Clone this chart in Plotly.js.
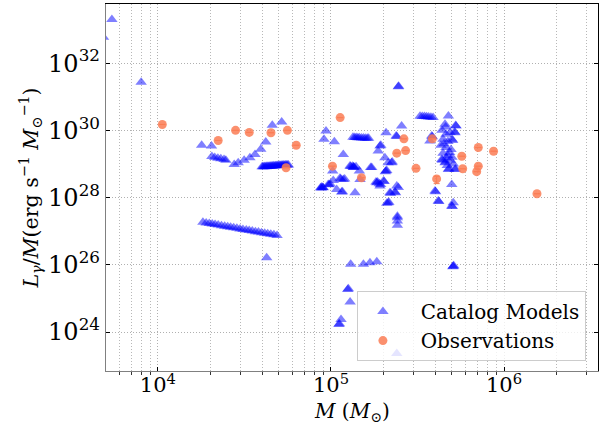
<!DOCTYPE html>
<html>
<head>
<meta charset="utf-8">
<script src="https://cdn.plot.ly/plotly-3.0.1.min.js"></script>
<style>html,body{margin:0;padding:0;background:#fff;}#chart{width:601px;height:425px;}</style>
</head>
<body>
<div id="chart"></div>
<script>
// ---- Catalog model values (M in solar masses, L/M in erg s^-1 Msun^-1) ----
var edgeM = [4.85e3, 5.42e3, 8.0e3];
var edgeL = [5.9e32, 2.0e33, 2.7e31];

var leftM = [1.79e4, 2.04e4, 2.05e4, 2.13e4, 2.22e4, 2.31e4, 2.41e4, 2.47e4,
             2.76e4, 2.91e4, 3.15e4, 3.40e4, 3.64e4, 3.93e4, 4.20e4, 4.58e4, 5.19e4];
var leftL = [3.6e29, 3.4e29, 1.68e29, 1.57e29, 1.47e29, 1.42e29, 1.37e29, 1.28e29,
             9.7e28, 1.09e29, 1.28e29, 1.54e29, 1.93e29, 2.72e29, 4.5e29, 1.41e30, 1.77e30];

var barM = [4.00e4, 4.05e4, 4.11e4, 4.16e4, 4.22e4, 4.27e4, 4.33e4, 4.39e4, 4.45e4, 4.51e4,
            4.57e4, 4.63e4, 4.69e4, 4.76e4, 4.82e4, 4.89e4, 4.95e4, 5.02e4, 5.09e4, 5.16e4,
            5.23e4, 5.30e4, 5.37e4, 5.45e4, 5.52e4, 5.60e4, 5.68e4];
var barL = [8.2e28, 8.3e28, 8.2e28, 8.4e28, 8.3e28, 8.5e28, 8.4e28, 8.6e28, 8.5e28, 8.7e28,
            8.6e28, 8.8e28, 8.7e28, 8.9e28, 8.8e28, 9.0e28, 8.9e28, 9.1e28, 9.0e28, 9.2e28,
            9.1e28, 9.3e28, 9.2e28, 9.4e28, 9.3e28, 9.4e28, 9.4e28];

var diagM = [1.82e4, 1.90e4, 1.98e4, 2.06e4, 2.14e4, 2.23e4, 2.33e4, 2.43e4, 2.53e4, 2.63e4,
             2.74e4, 2.86e4, 2.98e4, 3.10e4, 3.24e4, 3.37e4, 3.51e4, 3.66e4, 3.81e4, 3.97e4,
             4.14e4, 4.31e4, 4.49e4, 4.68e4, 4.88e4, 4.25e4];
var diagL = [1.83e27, 1.76e27, 1.70e27, 1.64e27, 1.57e27, 1.52e27, 1.46e27, 1.41e27, 1.36e27, 1.31e27,
             1.26e27, 1.22e27, 1.17e27, 1.13e27, 1.09e27, 1.05e27, 1.01e27, 9.7e26, 9.4e26, 9.0e26,
             8.7e26, 8.4e26, 8.1e26, 7.8e26, 7.5e26, 1.63e26];

var midM = [9.36e4, 9.11e4, 1.046e5, 1.178e5, 1.023e5, 1.288e5, 1.30e5, 1.346e5, 1.36e5, 1.396e5,
            1.459e5, 8.71e4, 8.80e4, 8.99e4, 9.64e4, 9.75e4, 9.90e4, 1.031e5, 1.127e5, 1.14e5,
            1.178e5, 1.20e5, 1.079e5, 1.153e5, 1.165e5, 1.377e5, 1.472e5, 1.695e5, 1.820e5, 1.937e5,
            1.90e5, 1.34e5, 1.37e5, 1.40e5, 1.43e5, 1.46e5, 1.50e5, 1.54e5, 1.58e5, 1.62e5,
            1.65e5, 2.08e5, 2.38e5, 2.40e5, 2.56e5, 2.45e5, 2.46e5, 1.92e5, 1.94e5, 1.875e5,
            2.05e5, 2.14e5, 2.24e5, 2.26e5, 2.08e5, 2.10e5, 2.06e5, 1.72e5, 1.84e5, 1.86e5,
            1.92e5, 2.01e5, 2.03e5, 2.19e5, 2.21e5, 2.34e5, 2.36e5, 2.40e5, 2.45e5, 2.14e5,
            2.10e5, 2.16e5, 2.42e5, 2.42e5, 2.42e5, 2.42e5, 8.85e4, 9.0e4, 1.335e5, 1.35e5];
var midL = [9.5e29, 5.4e29, 4.55e29, 1.93e29, 6.15e28, 8.7e28, 8.4e28, 7.8e28, 8.0e28, 8.2e28,
            6.15e28, 1.97e28, 1.93e28, 2.01e28, 2.47e28, 2.40e28, 2.55e28, 3.25e28, 3.73e28, 3.60e28,
            3.48e28, 3.55e28, 1.75e28, 1.46e28, 1.50e28, 1.40e28, 3.48e28, 7.8e28, 2.89e28, 2.47e28,
            2.60e28, 6.2e29, 6.1e29, 6.1e29, 6.0e29, 6.0e29, 5.9e29, 5.9e29, 5.8e29, 5.8e29,
            5.8e29, 8.5e29, 6.8e29, 6.6e29, 1.34e30, 2.0e31, 2.05e31, 3.4e29, 3.6e29, 2.42e29,
            1.54e29, 1.09e29, 1.09e29, 1.15e29, 6.15e28, 6.4e28, 5.9e28, 7.8e28, 2.77e28, 2.9e28,
            2.20e28, 3.1e28, 3.0e28, 1.40e28, 1.35e28, 1.46e28, 1.40e28, 2.20e28, 2.0e28, 7.05e27,
            6.8e27, 7.3e27, 2.8e27, 2.5e27, 2.0e27, 1.49e27, 2.05e28, 1.95e28, 8.5e28, 8.1e28];

var lowM = [1.30e5, 1.54e5, 1.68e5, 1.84e5, 1.25e5, 1.26e5, 1.29e5, 1.143e5, 1.112e5, 1.118e5, 2.40e5];
var lowL = [1.03e26, 1.03e26, 1.16e26, 1.24e26, 1.85e25, 1.95e25, 7.8e24, 2.37e24, 1.68e24, 1.75e24, 2.3e23];

var rightM = [3.27e5, 3.37e5, 3.47e5, 3.57e5, 3.67e5, 3.78e5, 3.89e5, 4.77e5, 4.56e5, 4.60e5,
              5.28e5, 5.25e5, 5.21e5, 5.18e5, 3.82e5, 3.85e5, 3.73e5, 4.38e5, 4.62e5, 4.88e5,
              4.44e5, 4.74e5, 5.0e5, 5.05e5, 4.32e5, 4.62e5, 4.94e5, 4.44e5, 4.74e5, 5.0e5,
              4.37e5, 4.40e5, 4.56e5, 4.60e5, 4.77e5, 4.80e5, 5.21e5, 5.25e5, 4.99e5, 3.99e5,
              4.02e5, 4.17e5, 4.20e5, 4.99e5, 5.02e5, 5.09e5, 5.09e5, 5.12e5, 5.06e5, 4.50e5,
              4.85e5, 4.65e5, 4.90e5, 5.10e5, 4.70e5];
var rightL = [2.65e30, 2.6e30, 2.6e30, 2.55e30, 2.5e30, 2.45e30, 2.4e30, 2.67e30, 1.51e30, 1.25e30,
              1.34e30, 1.40e30, 8.5e29, 9.0e29, 6.8e29, 6.5e29, 4.8e29, 1.0e30, 7.6e29, 8.7e29,
              5.4e29, 4.7e29, 5.4e29, 5.0e29, 3.6e29, 3.1e29, 2.7e29, 2.1e29, 1.8e29, 1.58e29,
              1.37e29, 1.30e29, 1.09e29, 1.15e29, 6.9e28, 7.2e28, 6.9e28, 7.1e28, 2.47e28, 1.56e28,
              1.50e28, 7.9e27, 7.6e27, 5.6e27, 5.4e27, 7.05e27, 9.1e25, 9.4e25, 8.8e25, 4.0e29,
              2.2e29, 1.5e29, 1.3e29, 1.0e29, 9.0e28];

// ---- Observations ----
var obsM = [1.06e4, 2.23e4, 2.81e4, 3.37e4, 4.5e4, 5.6e4, 6.3e4, 5.5e4, 1.13e5, 1.02e5,
            1.50e5, 2.40e5, 2.64e5, 2.70e5, 3.10e5, 3.85e5, 4.08e5, 5.7e5, 5.77e5, 7.1e5,
            7.1e5, 6.95e5, 8.7e5, 1.55e6];
var obsL = [1.5e30, 5.0e29, 1.0e30, 8.7e29, 8.5e29, 1.0e30, 3.6e29, 7.7e28, 2.4e30, 8.6e28,
            3.9e28, 2.1e29, 5.6e29, 2.5e29, 7.4e28, 5.6e29, 3.6e28, 1.7e29, 7.2e28, 3.1e29,
            8.6e28, 5.9e28, 2.4e29, 1.3e28];
var obsErrUp = [0,0,0,0,0,0,0,0,0,0, 0,0,0,0,0,0,0.7e28,0,0,0, 0,0,0,0];
var obsErrDn = [0,0,0,0,0,0,0,0,0,0, 0,0,0,0,0,0,1.0e28,0,0,0, 0,0,0,0];

// ---- Axis ticks ----
var xMajor = [1e4, 1e5, 1e6];
var xMajorText = ['10<sup>4</sup>', '10<sup>5</sup>', '10<sup>6</sup>'];
var xMinor = [5e3,6e3,7e3,8e3,9e3, 2e4,3e4,4e4,5e4,6e4,7e4,8e4,9e4, 2e5,3e5,4e5,5e5,6e5,7e5,8e5,9e5, 2e6,3e6];
var yMajor = [1e24, 1e26, 1e28, 1e30, 1e32];
var yMajorText = ['10<sup>24</sup>', '10<sup>26</sup>', '10<sup>28</sup>', '10<sup>30</sup>', '10<sup>32</sup>'];

var catM = [].concat(edgeM, leftM, barM, diagM, midM, lowM, rightM);
var catL = [].concat(edgeL, leftL, barL, diagL, midL, lowL, rightL);

var serif = 'DejaVu Serif, serif';
var traces = [
  {x: catM, y: catL, type: 'scatter', mode: 'markers', name: '\u00a0\u00a0Catalog Models',
   marker: {symbol: 'triangle-up', size: 10, color: 'rgb(0,0,255)', opacity: 0.5, line: {width: 0}}},
  {x: obsM, y: obsL, type: 'scatter', mode: 'markers', name: '\u00a0\u00a0Observations',
   marker: {symbol: 'circle', size: 9, color: 'rgb(250,125,85)', opacity: 0.85, line: {width: 0}},
   error_y: {type: 'data', symmetric: false, array: obsErrUp, arrayminus: obsErrDn,
             color: 'rgb(250,125,85)', thickness: 1, width: 3}},
  {x: [], y: [], xaxis: 'x2', yaxis: 'y', showlegend: false, hoverinfo: 'skip'},
  {x: [], y: [], xaxis: 'x3', yaxis: 'y', showlegend: false, hoverinfo: 'skip'},
  {x: [], y: [], xaxis: 'x', yaxis: 'y2', showlegend: false, hoverinfo: 'skip'}
];

var xr = [3.70, 6.543], yr = [22.84, 33.76];
var gridDash = '1px,2px';
var layout = {
  width: 601, height: 425,
  margin: {l: 106, r: 3, t: 4, b: 54, pad: 0},
  paper_bgcolor: '#fff', plot_bgcolor: '#fff',
  font: {family: serif, color: '#000'},
  showlegend: true,
  xaxis: {type: 'log', range: xr, tickmode: 'array', tickvals: xMajor, ticktext: xMajorText,
          ticks: 'inside', ticklen: 4, tickcolor: '#000', tickfont: {family: serif, size: 21},
          ticklabelstandoff: -5,
          showline: true, linecolor: '#808080', linewidth: 1.2, zeroline: false,
          showgrid: true, gridcolor: '#b0b0b0', griddash: gridDash, gridwidth: 1,
          automargin: false},
  xaxis3: {type: 'log', range: xr, overlaying: 'x', anchor: 'y', side: 'bottom',
           tickmode: 'array', tickvals: xMinor, showticklabels: false,
           ticks: 'outside', ticklen: 3, tickcolor: '#000', tickwidth: 0.8,
           showline: false, zeroline: false,
           showgrid: true, gridcolor: '#b8b8b8', griddash: gridDash, gridwidth: 1},
  xaxis2: {type: 'log', range: xr, overlaying: 'x', anchor: 'y', side: 'top',
           showticklabels: false, ticks: '', showgrid: false, zeroline: false,
           showline: true, linecolor: '#000', linewidth: 1.2},
  yaxis: {type: 'log', range: yr, tickmode: 'array', tickvals: yMajor, ticktext: yMajorText,
          ticks: 'inside', ticklen: 4, tickcolor: '#000', tickfont: {family: serif, size: 24},
          showline: true, linecolor: '#808080', linewidth: 1.2, zeroline: false,
          showgrid: true, gridcolor: '#b0b0b0', griddash: gridDash, gridwidth: 1,
          title: {text: '<i>L</i><sub><i>γ</i></sub>/<i>M</i>(erg s<sup>−1</sup> <i>M</i><sub>⊙</sub><sup>−1</sup>)',
                  font: {family: serif, size: 20.5}, standoff: 4},
          automargin: false},
  yaxis2: {type: 'log', range: yr, overlaying: 'y', anchor: 'x', side: 'right',
           tickmode: 'array', tickvals: yMajor, showticklabels: false,
           ticks: 'inside', ticklen: 4, tickcolor: '#000', showgrid: false, zeroline: false,
           showline: true, linecolor: '#000', linewidth: 1.2},
  annotations: [{text: '<i>M</i> (<i>M</i><sub>⊙</sub>)', xref: 'paper', yref: 'paper',
                 x: 0.5, y: -0.152, xanchor: 'center', yanchor: 'bottom', showarrow: false,
                 font: {family: serif, size: 20, color: '#000'}}],
  legend: {x: 0.51, y: 0.027, xanchor: 'left', yanchor: 'bottom',
           bgcolor: 'rgba(255,255,255,0.8)', bordercolor: '#cccccc', borderwidth: 1,
           font: {family: serif, size: 20, color: '#000'}, itemwidth: 40,
           tracegroupgap: 0}
};

Plotly.newPlot('chart', traces, layout, {staticPlot: true, displayModeBar: false});
</script>
</body>
</html>
